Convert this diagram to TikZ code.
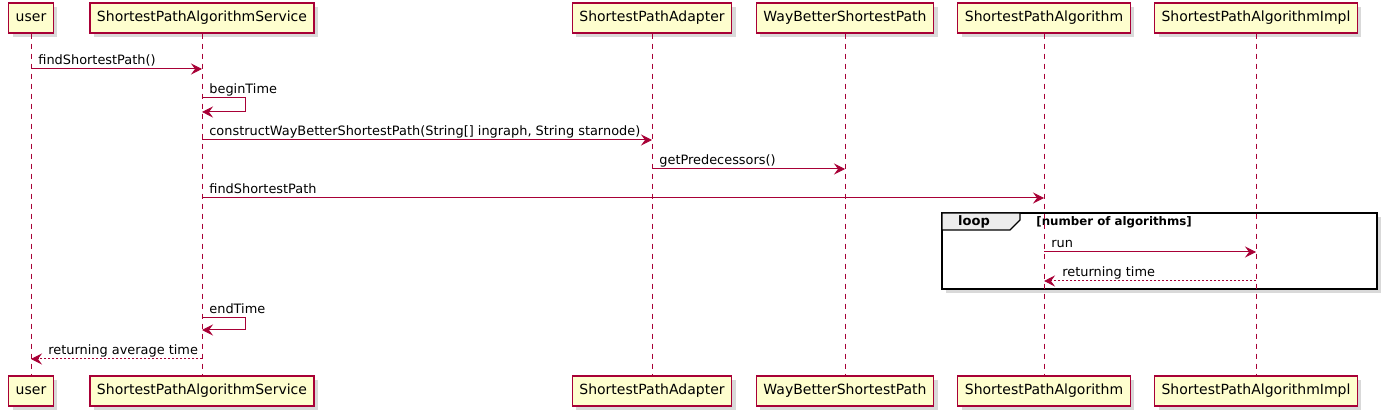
\documentclass[tikz,border=0pt]{standalone}
\usepackage{fontspec}
\setmainfont{DejaVu Sans}
\usetikzlibrary{arrows.meta,shadows,positioning}
\definecolor{umlred}{HTML}{A80036}
\definecolor{umlfill}{HTML}{FEFECE}

\begin{document}
\begin{tikzpicture}[x=0.5pt,y=-0.5pt,
  font=\fontsize{6.45}{8}\selectfont,
  actor/.style={draw=umlred,fill=umlfill,line width=0.6pt,minimum height=15pt,inner xsep=3.5pt,
    font=\fontsize{7}{8}\selectfont,
    drop shadow={shadow xshift=2pt,shadow yshift=-2pt,opacity=0.3}},
  life/.style={umlred,dash pattern=on 2.5pt off 2.5pt,line width=0.5pt},
  msg/.style={umlred,line width=0.5pt,-{Stealth[length=5.5pt,width=5.5pt,inset=2pt]}},
  reply/.style={msg,dash pattern=on 1pt off 1pt},
  lbl/.style={anchor=base west,inner sep=0pt,text=black}]
\useasboundingbox (0,0) rectangle (1386,416);
% participants
\node[actor] (user) at (31,18) {user};
\node[actor] (svc) at (202,18) {ShortestPathAlgorithmService};
\node[actor] (adapter) at (652,18) {ShortestPathAdapter};
\node[actor] (waybetter) at (845,18) {WayBetterShortestPath};
\node[actor] (algo) at (1044,18) {ShortestPathAlgorithm};
\node[actor] (impl) at (1256,18) {ShortestPathAlgorithmImpl};
\node[actor] (userB) at (31,391) {user};
\node[actor] (svcB) at (202,391) {ShortestPathAlgorithmService};
\node[actor] (adapterB) at (652,391) {ShortestPathAdapter};
\node[actor] (waybetterB) at (845,391) {WayBetterShortestPath};
\node[actor] (algoB) at (1044,391) {ShortestPathAlgorithm};
\node[actor] (implB) at (1256,391) {ShortestPathAlgorithmImpl};
% loop frame
\draw[line width=1pt,fill=white,drop shadow={shadow xshift=2pt,shadow yshift=-2pt,opacity=0.3}]
  (942,213) rectangle (1377,289);
\draw[line width=0.6pt,fill=gray!15] (942,213) -- (1020,213) -- (1020,220) -- (1010,230) -- (942,230) -- cycle;
\node[font=\fontsize{6.5}{8}\selectfont\bfseries] (looptag) at (974,222) {loop};
\node[anchor=west,inner sep=0pt,font=\fontsize{5.9}{7}\selectfont\bfseries] (loopcond) at (1036,222) {[number of algorithms]};
% lifelines
\draw[life] (user) -- (userB);
\draw[life] (svc) -- (svcB);
\draw[life] (adapter) -- (adapterB);
\draw[life] (waybetter) -- (waybetterB);
\draw[life] (algo) -- (algoB);
\draw[life] (impl) -- (implB);
% messages
\draw[msg] (user |- 0,69) -- (svc |- 0,69);
\node[lbl] (m1) at ([xshift=3.5pt,yshift=2.2pt]user |- 0,69) {findShortestPath()};
\draw[msg] (svc |- 0,98) -- ++(43,0) -- ++(0,14) -- (svc |- 0,112);
\node[lbl] (m2) at ([xshift=3.5pt,yshift=2.2pt]svc |- 0,98) {beginTime};
\draw[msg] (svc |- 0,140) -- (adapter |- 0,140);
\node[lbl] (m3) at ([xshift=3.5pt,yshift=2.2pt]svc |- 0,140) {constructWayBetterShortestPath(String[] ingraph, String starnode)};
\draw[msg] (adapter |- 0,169) -- (waybetter |- 0,169);
\node[lbl] (m4) at ([xshift=3.5pt,yshift=2.2pt]adapter |- 0,169) {getPredecessors()};
\draw[msg] (svc |- 0,198) -- (algo |- 0,198);
\node[lbl] (m5) at ([xshift=3.5pt,yshift=2.2pt]svc |- 0,198) {findShortestPath};
\draw[msg] (algo |- 0,252) -- (impl |- 0,252);
\node[lbl] (m6) at ([xshift=3.5pt,yshift=2.2pt]algo |- 0,252) {run};
\draw[reply] (impl |- 0,281) -- (algo |- 0,281);
\node[lbl] (m7) at ([xshift=9pt,yshift=2.2pt]algo |- 0,281) {returning time};
\draw[msg] (svc |- 0,318) -- ++(43,0) -- ++(0,12) -- (svc |- 0,330);
\node[lbl] (m8) at ([xshift=3.5pt,yshift=2.2pt]svc |- 0,318) {endTime};
\draw[reply] (svc |- 0,359) -- (user |- 0,359);
\node[lbl] (m9) at ([xshift=8.5pt,yshift=2.2pt]user |- 0,359) {returning average time};
\end{tikzpicture}
\end{document}
